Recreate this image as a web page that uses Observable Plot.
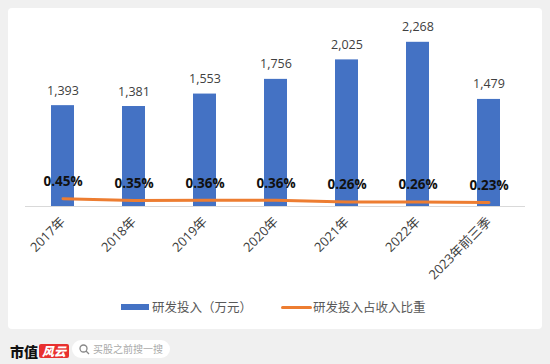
<!DOCTYPE html>
<html><head><meta charset="utf-8">
<script src="https://cdn.jsdelivr.net/npm/d3@7"></script>
<script src="https://cdn.jsdelivr.net/npm/@observablehq/plot@0.6"></script>
<style>
html,body{margin:0;padding:0;}
body{width:550px;height:364px;background:#f0f0f0;position:relative;overflow:hidden;font-family:"Open Sans","Noto Sans CJK SC",sans-serif;}
#panel{position:absolute;left:8px;top:8px;width:534px;height:321px;background:#fff;border-radius:4px;}
#chart{position:absolute;left:0;top:0;}
#legend{position:absolute;left:0;top:297px;width:550px;height:20px;font-size:12.5px;color:#595959;font-family:"Noto Sans CJK SC",sans-serif;}
.sw{position:absolute;top:7px;height:6px;}
.lt{position:absolute;top:0;line-height:20px;white-space:nowrap;}
#logo{position:absolute;left:10px;top:342px;font-family:"Noto Sans CJK SC",serif;font-weight:900;font-size:14px;color:#111;line-height:18px;}
#logo .red{display:inline-block;background:#e8302f;color:#fff;font-style:italic;font-size:12px;line-height:14px;padding:0 3px;border-radius:2px;margin-left:1px;vertical-align:1px;}
#search{position:absolute;left:72px;top:340px;width:98px;height:18px;background:#fff;border-radius:9px;font-family:"Noto Sans CJK SC",sans-serif;font-size:10px;color:#aaa;line-height:18px;}
#search svg{position:absolute;left:7px;top:4px;}
#search span{position:absolute;left:21px;top:0;}
</style></head>
<body>
<div id="panel"></div>
<div id="chart"></div>
<div id="legend">
  <div class="sw" style="left:121px;width:28px;background:#4472C4;"></div>
  <div class="lt" style="left:152px;">研发投入（万元）</div>
  <div class="sw" style="left:281px;width:31px;height:3px;top:9px;background:#ED7D31;border-radius:2px;"></div>
  <div class="lt" style="left:313px;">研发投入占收入比重</div>
</div>
<div id="logo">市值<span class="red">风云</span></div>
<div id="search"><svg width="11" height="11" viewBox="0 0 11 11"><circle cx="4.5" cy="4.5" r="3.5" fill="none" stroke="#888" stroke-width="1.3"/><line x1="7" y1="7" x2="10" y2="10" stroke="#888" stroke-width="1.3"/></svg><span>买股之前搜一搜</span></div>
<script>
const categories = ["2017年","2018年","2019年","2020年","2021年","2022年","2023年前三季"];
const investment = [1393,1381,1553,1756,2025,2268,1479];
const ratio = [0.45,0.35,0.36,0.36,0.26,0.26,0.23];

const data = categories.map((c,i)=>({cat:c, inv:investment[i], ratio:ratio[i]}));
// secondary axis (ratio, %) mapped onto primary value domain
const y2 = d3.scaleLinear().domain([0,10.5]).range([0,2500]);

const chart = Plot.plot({
  width:550, height:300,
  marginLeft:25, marginRight:25, marginTop:25, marginBottom:94,
  style:{fontFamily:"'Open Sans','Noto Sans CJK SC',sans-serif", background:"transparent", overflow:"visible"},
  x:{domain:categories, paddingInner:0.68, paddingOuter:0.34},
  y:{domain:[0,2500], range:[206,25], axis:null},
  marks:[
    Plot.barY(data,{x:"cat", y:"inv", fill:"#4472C4"}),
    Plot.ruleY([0],{stroke:"#d9d9d9", strokeWidth:1}),
    Plot.text(data,{x:"cat", y:"inv", text:d=>d3.format(",")(d.inv), dy:-15, fontSize:12.5, fill:"#404040"}),
    Plot.line(data,{x:"cat", y:d=>y2(d.ratio), stroke:"#ED7D31", strokeWidth:3, strokeLinecap:"round"}),
    Plot.text(data,{x:"cat", y:d=>y2(d.ratio), text:d=>d.ratio.toFixed(2)+"%", dy:-17, fontSize:13.5, fontWeight:"bold", fill:"#111"}),
    Plot.axisX({tickRotate:-45, tickSize:0, tickPadding:6, dx:0, dy:7, fontSize:13, fill:"#404040", label:null})
  ]
});
document.getElementById("chart").appendChild(chart);
</script>
</body></html>
